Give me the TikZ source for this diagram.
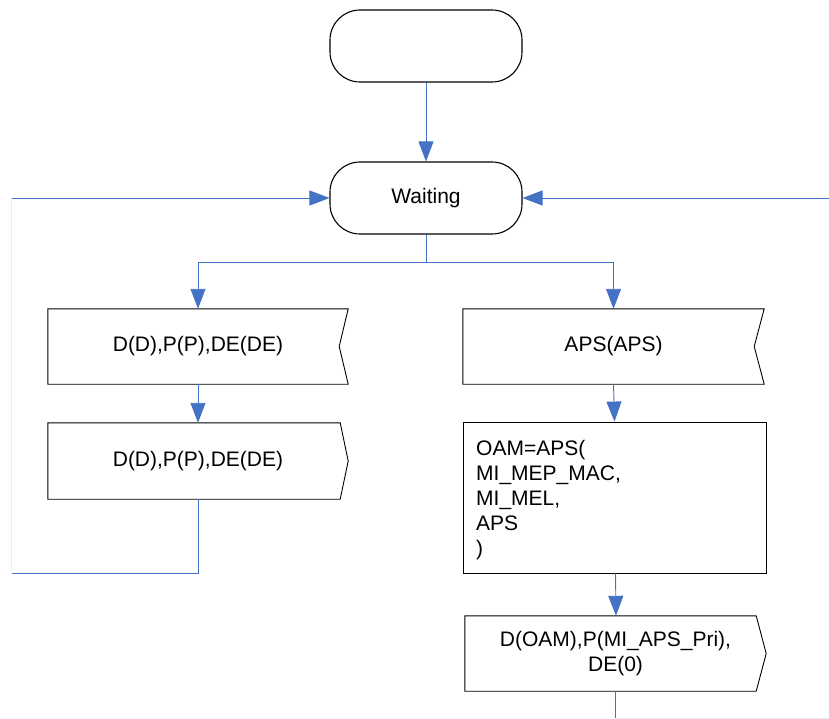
\documentclass[tikz,border=0pt]{standalone}
\usepackage{fontspec}
\setmainfont{Liberation Sans}
\usetikzlibrary{arrows.meta}
\definecolor{conn}{HTML}{4472C4}
\tikzset{
  box/.style={draw=none, minimum width=#1, inner sep=0pt},
  term/.style={draw=black, line width=1.1pt, rounded corners=30pt, minimum width=192pt, minimum height=72pt, inner sep=0pt},
  outl/.style={draw=black, line width=0.9pt},
  link/.style={draw=conn, line width=0.9pt},
  faint/.style={draw=conn!12, line width=0.9pt},
  arr/.style={link, -{Triangle[length=20pt,width=15pt]}},
  txt/.style={font=\fontsize{21}{25}\selectfont}
}
\begin{document}
\begin{tikzpicture}[x=1pt,y=-1pt]
\useasboundingbox (0,0) rectangle (829,719);
% nodes
\node[term, txt] (start) at (426,46) {};
\node[term, txt] (wait) at (426,198) {Waiting};
\node[box=300pt, minimum height=75pt, txt] (b1) at (198,346.5) {D(D),P(P),DE(DE)};
\node[box=300pt, minimum height=76pt, txt] (b2) at (198,461) {D(D),P(P),DE(DE)};
\node[box=301pt, minimum height=75pt, txt] (aps) at (613.5,346.5) {APS(APS)};
\node[draw=black, line width=0.9pt, minimum width=303pt, minimum height=151pt, inner sep=0pt] (oam) at (614.5,497.5) {};
\node[txt, align=left, anchor=west, inner sep=0pt] (oamtxt) at (476,500) {OAM=APS(\\MI\_MEP\_MAC,\\MI\_MEL,\\APS\\)};
\node[box=301pt, minimum height=75pt, txt, align=center] (out) at (615.5,653.5) {D(OAM),P(MI\_APS\_Pri),\\DE(0)};
% outlines
\draw[outl] (b1.north west) -- (b1.north east) -- ([xshift=-9pt]b1.east) -- (b1.south east) -- (b1.south west) -- cycle;
\draw[outl] (b2.north west) -- ([xshift=-8pt]b2.north east) -- (b2.east) -- ([xshift=-8pt]b2.south east) -- (b2.south west) -- cycle;
\draw[outl] (aps.north west) -- (aps.north east) -- ([xshift=-10pt]aps.east) -- (aps.south east) -- (aps.south west) -- cycle;
\draw[outl] (out.north west) -- ([xshift=-10pt]out.north east) -- (out.east) -- ([xshift=-10pt]out.south east) -- (out.south west) -- cycle;
% connectors
\coordinate (split) at (426,262);
\coordinate (lc) at (11.5,573);
\coordinate (lt) at (11.5,198);
\coordinate (rc) at (615.5,718);
\coordinate (rb) at (833,718);
\coordinate (rt) at (833,198);
\draw[arr] (start.south) -- (wait.north);
\draw[link] (wait.south) -- (split);
\draw[arr] (split) -| (b1.north);
\draw[arr] (split) -| (aps.north);
\draw[arr] (b1.south) -- (b2.north);
\draw[link] (b2.south) |- (lc);
\draw[faint] (lc) -- (lt);
\draw[arr] (lt) -- (wait.west);
\draw[arr] (aps.south) -- (oam.north);
\draw[arr] ([xshift=1pt]oam.south) -- ([xshift=0.5pt]out.north);
\draw[link] (out.south) -- (rc);
\draw[faint] (rc) -- (rb);
\draw[link] (rb) -- (rt);
\draw[arr] (rt) -- (wait.east);
\end{tikzpicture}
\end{document}
